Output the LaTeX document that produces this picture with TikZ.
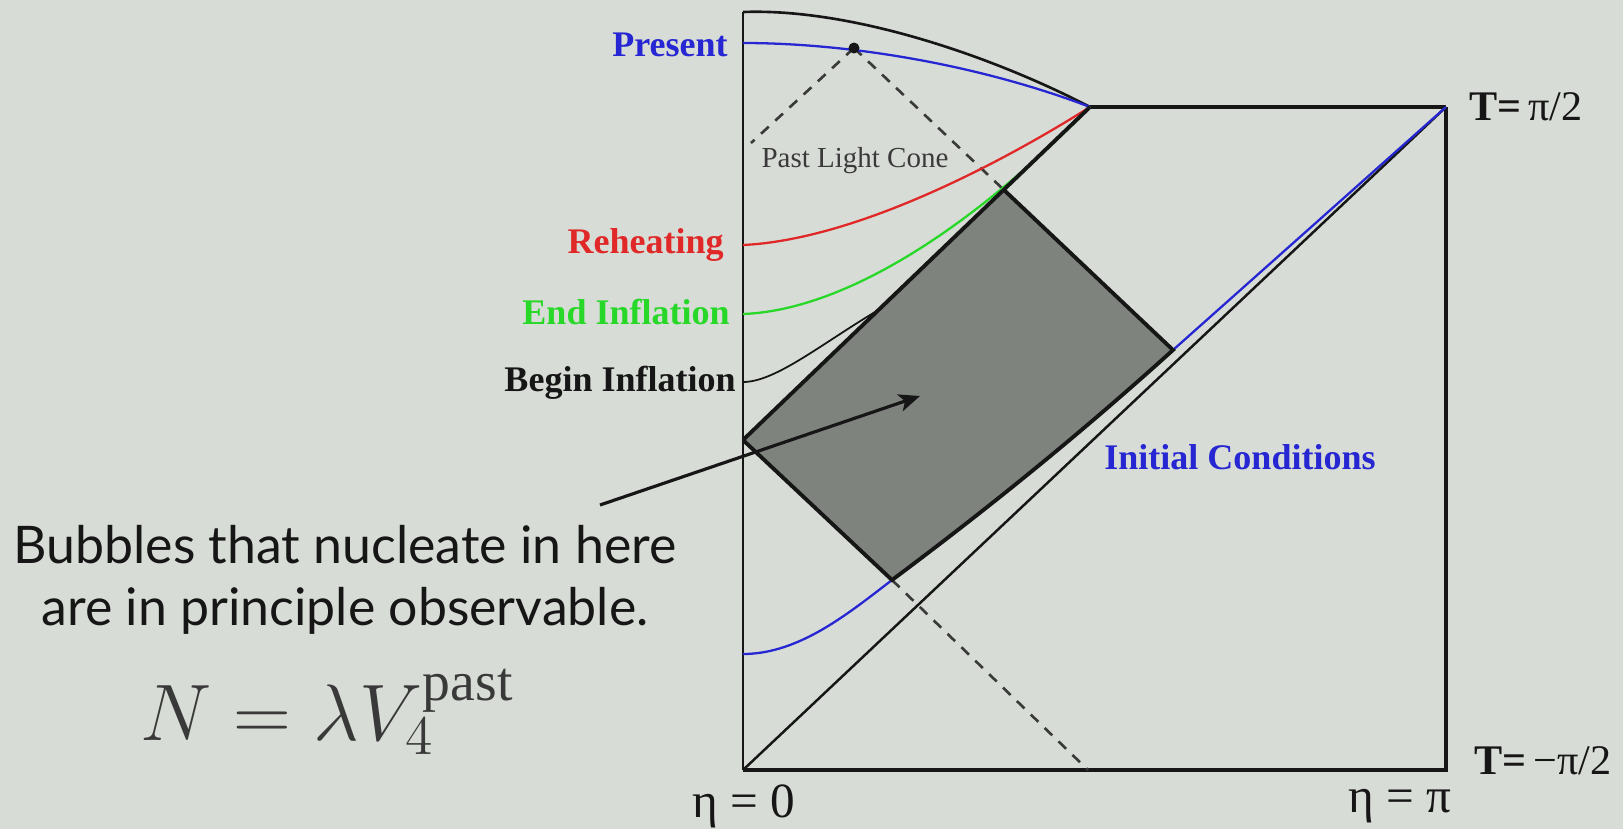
\documentclass[tikz,border=0pt]{standalone}
\usepackage{graphicx}
\usepackage{fontspec}
\setmainfont{Liberation Serif}
\newfontfamily\gillfont{Lato}
\usetikzlibrary{arrows.meta}
\definecolor{bg}{HTML}{D8DCD6}
\definecolor{regiongray}{HTML}{7F837E}
\definecolor{pblue}{HTML}{2626D2}
\definecolor{pred}{HTML}{E02828}
\definecolor{pgreen}{HTML}{28D828}
\definecolor{ink}{HTML}{161616}
\definecolor{dashgray}{HTML}{3A3A3A}
\begin{document}
\begin{tikzpicture}[x=0.02cm,y=-0.02cm,
  frame/.style={draw=ink, line width=1.5pt},
  thickframe/.style={draw=ink, line width=2.2pt},
  curve/.style={line width=1.3pt},
  dashline/.style={draw=dashgray, line width=1.5pt, dash pattern=on 6pt off 5pt},
  lbl/.style={font=\fontsize{20.5}{24}\selectfont\bfseries, inner sep=0pt},
  axlbl/.style={font=\fontsize{24}{28}\selectfont, inner sep=0pt},
  etalbl/.style={font=\fontsize{28}{32}\selectfont, inner sep=0pt},
  bubble/.style={font=\gillfont\fontsize{29.5}{35}\selectfont, text=ink, align=center, inner sep=0pt}]
% background / bounding box
\fill[bg] (0,0) rectangle (1623,829);
\useasboundingbox (0,0) rectangle (1623,829);
% key points
\coordinate (TL) at (743,12);
\coordinate (BL) at (743,770);
\coordinate (BR) at (1446,770);
\coordinate (TR) at (1446,107);
\coordinate (C) at (1090,107);
\coordinate (L1) at (743,440);
\coordinate (T1) at (1004,190);
\coordinate (R1) at (1173,350);
\coordinate (B1) at (892,580);
\coordinate (dot) at (854,48);
\coordinate (dl) at (751,143);
\coordinate (db) at (1088,770);
\coordinate (pres0) at (743,43);
\coordinate (reh0) at (743,245);
\coordinate (end0) at (743,314);
\coordinate (beg0) at (743,382);
\coordinate (ic0) at (743,654);
\coordinate (begm) at (875,312);
\coordinate (arrS) at (600,505);
\coordinate (arrE) at (920,396);
% shaded region
\fill[regiongray] (L1) -- (T1) -- (R1) .. controls (1079,435) and (986,510) .. (B1) -- cycle;
% frame
\draw[frame] (TL) -- (BL);
\draw[frame, line width=2.2pt] (BL) -- (BR) -- (TR);
\draw[thickframe] (C) -- (TR);
\draw[frame] (TL) .. controls (850,8) and (990,55) .. (C);
% null diagonal
\draw[frame, line width=1.4pt] (BL) -- (TR);
% dashed light cones
\draw[dashline] (dot) -- (dl);
\draw[dashline] (dot) -- (T1);
\draw[dashline] (B1) -- (db);
% colored surfaces
\draw[curve, pblue] (pres0) .. controls (850,43) and (980,65) .. (C);
\draw[curve, pred] (reh0) .. controls (850,240) and (990,170) .. (C);
\draw[curve, pgreen] (end0) .. controls (850,310) and (980,220) .. (C);
\draw[curve, ink, line width=1pt] (beg0) .. controls (775,382) and (820,345) .. (begm);
\draw[curve, pblue] (ic0) .. controls (800,654) and (850,612) .. (B1);
\draw[curve, pblue] (R1) -- (TR);
% shaded border
\draw[thickframe] (L1) -- (C);
\draw[thickframe] (L1) -- (B1) .. controls (986,510) and (1079,435) .. (R1) -- (T1);
% observer
\fill[ink] (dot) circle (5.5);
% arrow
\draw[ink, line width=1.8pt, -{Stealth[length=12pt,width=10pt,inset=3pt]}] (arrS) -- (arrE);
% labels
\node[lbl, text=pblue, anchor=east] (present) at (728,45) {Present};
\node[lbl, text=pred, anchor=east] (reheat) at (724,245) {Reheating};
\node[lbl, text=pgreen, anchor=east] (endinf) at (730,312) {End Inflation};
\node[lbl, text=ink, anchor=east] (beginf) at (736,383) {Begin Inflation};
\node[font=\fontsize{16.5}{20}\selectfont, text=dashgray, inner sep=0pt] (plc) at (855,161) {Past Light Cone};
\node[lbl, text=pblue] (init) at (1240,457) {Initial Conditions};
\node[axlbl, anchor=west, text=ink] (tplus) at (1469,107) {{\bfseries T=}\,π/2};
\node[axlbl, anchor=west, text=ink] (tminus) at (1474,761) {{\bfseries T=}\,−π/2};
\node[etalbl, text=ink] (eta0) at (744,806) {η = 0};
\node[etalbl, text=ink] (etapi) at (1400,806) {η = π};
\node[bubble] (bubbles) at (345,580) {Bubbles that nucleate in here\\are in principle observable.};
\node[text=ink!85, inner sep=0pt, anchor=base west] (formula) at (140,740) {\scalebox{2.2}{\fontsize{20.74}{24}\selectfont $N=\lambda V_4^{\mathrm{past}}$}};
\end{tikzpicture}
\end{document}
